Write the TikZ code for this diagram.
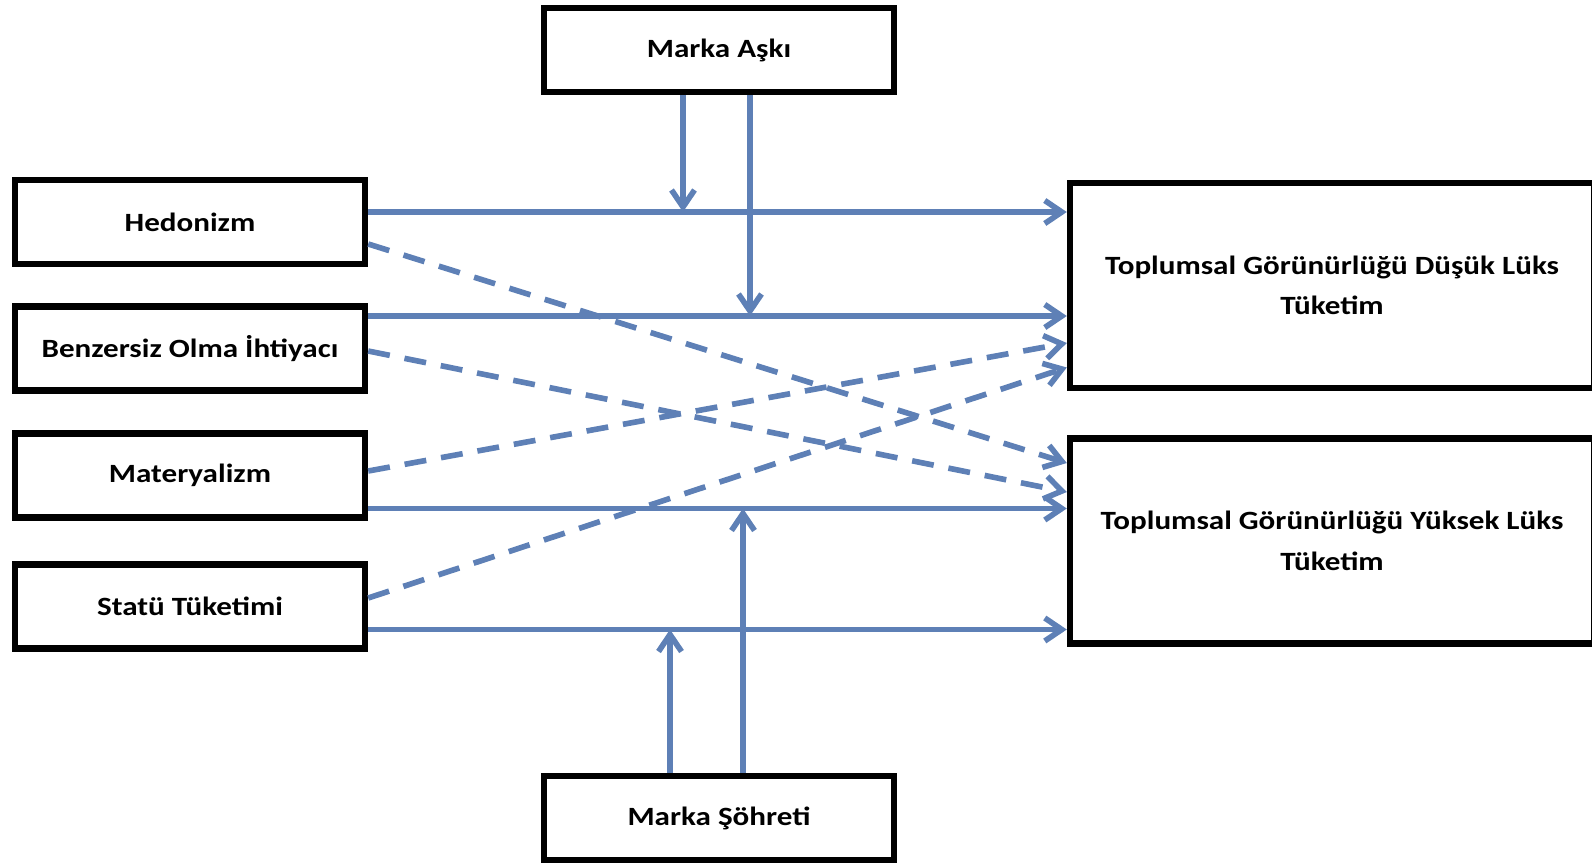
\documentclass[tikz,border=0pt]{standalone}
\usepackage{fontspec}
\setmainfont{Carlito}[FakeStretch=1.18]
\usepackage{tikz}
\usetikzlibrary{arrows.meta,positioning,calc}
\definecolor{mablue}{RGB}{94,128,182}
\tikzset{
  mabox/.style={draw=black, line width=3.7pt, fill=white, align=center, minimum width=7cm, minimum height=1.68cm, inner sep=2pt},
  mabigbox/.style={draw=black, line width=3.7pt, fill=white, align=center, minimum width=10.48cm, minimum height=4.1cm, inner sep=2pt},
  maline/.style={-{Straight Barb[length=3.4mm,width=4.6mm]}, draw=mablue, line width=3.2pt},
  madash/.style={maline, dash pattern=on 0.44cm off 0.3cm}
}

\begin{document}
\begin{tikzpicture}[x=0.02cm, y=-0.02cm, every node/.style={font=\fontsize{15pt}{23pt}\selectfont\bfseries}]
  \useasboundingbox (0,0) rectangle (1592,863);

  % moderators
  \node[mabox] (ask) at (719,50) {Marka Aşkı};
  \node[mabox] (soh) at (719,818) {Marka Şöhreti};

  % independent variables
  \node[mabox] (hed) at (190,222) {Hedonizm};
  \node[mabox] (ben) at (190,348.5) {Benzersiz Olma İhtiyacı};
  \node[mabox] (mat) at (190,475.5) {Materyalizm};
  \node[mabox] (sta) at (190,606.5) {Statü Tüketimi};

  % dependent variables
  \node[mabigbox] (dusuk) at (1332,285.5) {Toplumsal Görünürlüğü Düşük Lüks\\Tüketim};
  \node[mabigbox] (yuksek) at (1332,541) {Toplumsal Görünürlüğü Yüksek Lüks\\Tüketim};

  \coordinate (hedout) at ([yshift=0.2cm]hed.east);
  \coordinate (benout) at ([yshift=0.65cm]ben.east);
  \coordinate (matout) at ([yshift=-0.66cm]mat.east);
  \coordinate (staout) at ([yshift=-0.46cm]sta.east);
  \draw[maline] (hedout) -- (hedout -| dusuk.west);
  \draw[maline] (benout) -- (benout -| dusuk.west);
  \draw[maline] (matout) -- (matout -| yuksek.west);
  \draw[maline] (staout) -- (staout -| yuksek.west);

  \draw[madash] ([yshift=-0.44cm]hed.east) -- ([yshift=1.56cm]yuksek.west);
  \draw[madash] ([yshift=-0.05cm]ben.east) -- ([yshift=0.98cm]yuksek.west);
  \draw[madash] ([yshift=0.09cm]mat.east) -- ([yshift=-1.15cm]dusuk.west);
  \draw[madash] ([yshift=0.17cm]sta.east) -- ([yshift=-1.64cm]dusuk.west);

  \coordinate (askl) at ([xshift=-0.72cm]ask.south);
  \coordinate (askr) at ([xshift=0.62cm]ask.south);
  \coordinate (sohl) at ([xshift=-0.98cm]soh.north);
  \coordinate (sohr) at ([xshift=0.48cm]soh.north);
  \draw[maline] (askl) -- (askl |- hedout);
  \draw[maline] (askr) -- (askr |- benout);
  \draw[maline] (sohl) -- (sohl |- staout);
  \draw[maline] (sohr) -- (sohr |- matout);
\end{tikzpicture}
\end{document}
